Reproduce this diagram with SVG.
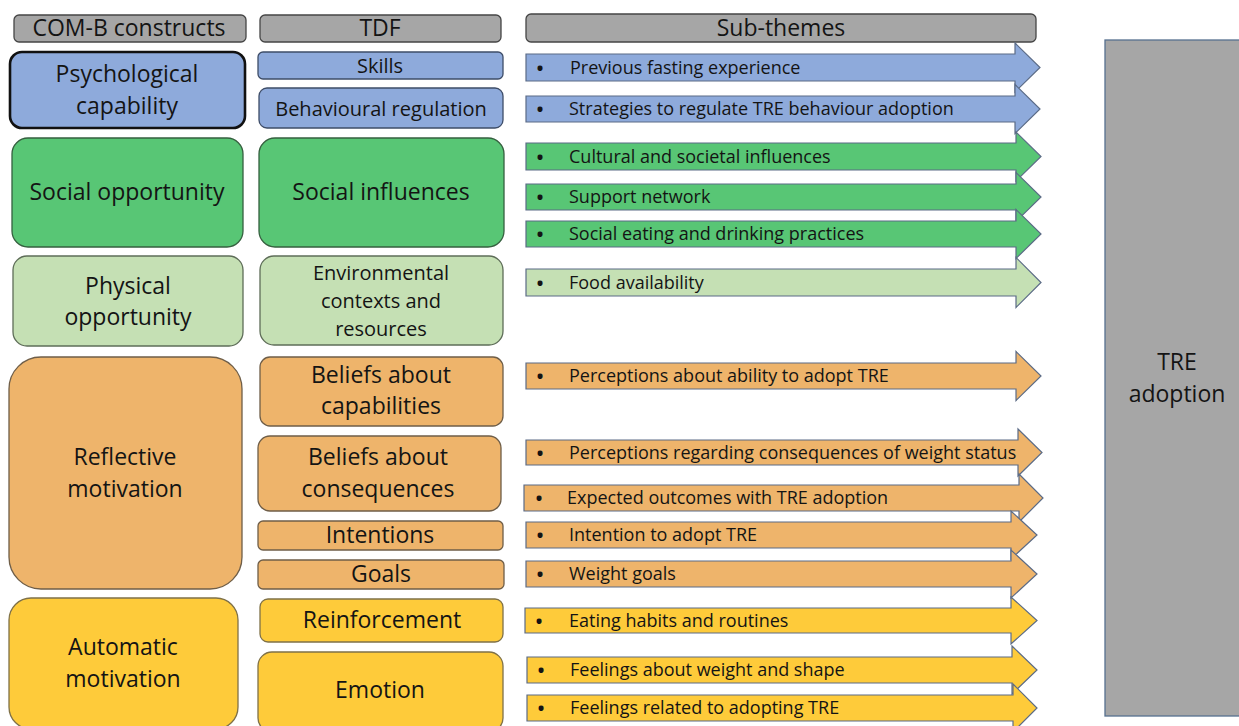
<svg xmlns="http://www.w3.org/2000/svg" width="1239" height="726" viewBox="0 0 1239 726">
  <style>
    text { font-family: "Open Sans", "Noto Sans", "Liberation Sans", sans-serif; fill: #141414; }
    .lbl { font-size: 23px; text-anchor: middle; }
    .lbs { font-size: 20px; text-anchor: middle; }
    .sub { font-size: 18px; }
    .dot { font-size: 24px; text-anchor: middle; }
    .hdr { fill: #a6a6a6; stroke: #454545; stroke-width: 1.3; }
    .blue { fill: #8eaadb; stroke: #3e4d68; stroke-width: 1.3; }
    .green { fill: #58c675; stroke: #35603f; stroke-width: 1.3; }
    .lgreen { fill: #c5e0b4; stroke: #5e6d58; stroke-width: 1.3; }
    .orange { fill: #eeb46b; stroke: #6f5e48; stroke-width: 1.3; }
    .yellow { fill: #fecb3a; stroke: #7f7148; stroke-width: 1.3; }
    .arw { stroke: #5b6b86; stroke-width: 1.2; stroke-linejoin: miter; }
    .arw.green, .arw.lgreen, .arw.orange, .arw.yellow { stroke: #5b6b86; }
  </style>

  <rect width="1239" height="726" fill="#ffffff"/>

  <!-- column headers -->
  <g id="hdr-comb">
    <rect class="hdr" x="14" y="15" width="232" height="27" rx="5"/>
    <text class="lbl" x="129" y="36">COM-B constructs</text>
  </g>
  <g id="hdr-tdf">
    <rect class="hdr" x="260" y="15" width="241" height="27" rx="5"/>
    <text class="lbl" x="380" y="36">TDF</text>
  </g>
  <g id="hdr-subthemes">
    <rect class="hdr" x="526" y="14" width="510" height="28" rx="5"/>
    <text class="lbl" x="781" y="36">Sub-themes</text>
  </g>

  <!-- COM-B constructs -->
  <g id="psychological-capability">
    <rect class="blue" x="10" y="52" width="235" height="76" rx="12" style="stroke:#111;stroke-width:2.6"/>
    <text class="lbl" x="127" y="82">Psychological</text>
    <text class="lbl" x="127" y="114">capability</text>
  </g>
  <g id="social-opportunity">
    <rect class="green" x="12" y="138" width="231" height="109" rx="16"/>
    <text class="lbl" x="127" y="200">Social opportunity</text>
  </g>
  <g id="physical-opportunity">
    <rect class="lgreen" x="13" y="256" width="230" height="90" rx="14"/>
    <text class="lbl" x="128" y="293.5">Physical</text>
    <text class="lbl" x="128" y="325">opportunity</text>
  </g>
  <g id="reflective-motivation">
    <rect class="orange" x="9" y="357" width="233" height="232" rx="32"/>
    <text class="lbl" x="125" y="465">Reflective</text>
    <text class="lbl" x="125" y="497">motivation</text>
  </g>
  <g id="automatic-motivation">
    <rect class="yellow" x="9" y="598" width="229" height="131" rx="22"/>
    <text class="lbl" x="123" y="655">Automatic</text>
    <text class="lbl" x="123" y="687">motivation</text>
  </g>

  <!-- TDF domains -->
  <g id="tdf-skills">
    <rect class="blue" x="258" y="52" width="245" height="27" rx="5"/>
    <text class="lbs" x="380" y="73">Skills</text>
  </g>
  <g id="tdf-behavioural-regulation">
    <rect class="blue" x="259" y="88" width="244" height="40" rx="8"/>
    <text class="lbs" x="381" y="116">Behavioural regulation</text>
  </g>
  <g id="tdf-social-influences">
    <rect class="green" x="259" y="138" width="245" height="109" rx="16"/>
    <text class="lbl" x="381" y="200">Social influences</text>
  </g>
  <g id="tdf-environmental">
    <rect class="lgreen" x="260" y="256" width="243" height="89" rx="14"/>
    <text class="lbs" x="381" y="280">Environmental</text>
    <text class="lbs" x="381" y="308">contexts and</text>
    <text class="lbs" x="381" y="336">resources</text>
  </g>
  <g id="tdf-beliefs-capabilities">
    <rect class="orange" x="260" y="357" width="243" height="69" rx="10"/>
    <text class="lbl" x="381" y="383">Beliefs about</text>
    <text class="lbl" x="381" y="414">capabilities</text>
  </g>
  <g id="tdf-beliefs-consequences">
    <rect class="orange" x="258" y="436" width="243" height="75" rx="12"/>
    <text class="lbl" x="378" y="465">Beliefs about</text>
    <text class="lbl" x="378" y="497">consequences</text>
  </g>
  <g id="tdf-intentions">
    <rect class="orange" x="258" y="521" width="245" height="29" rx="5"/>
    <text class="lbl" x="380" y="543">Intentions</text>
  </g>
  <g id="tdf-goals">
    <rect class="orange" x="258" y="560" width="246" height="29" rx="5"/>
    <text class="lbl" x="381" y="582">Goals</text>
  </g>
  <g id="tdf-reinforcement">
    <rect class="yellow" x="260" y="599" width="243" height="43" rx="8"/>
    <text class="lbl" x="382" y="628">Reinforcement</text>
  </g>
  <g id="tdf-emotion">
    <rect class="yellow" x="258" y="652" width="245" height="80" rx="14"/>
    <text class="lbl" x="380" y="698">Emotion</text>
  </g>

  <!-- outcome -->
  <g id="tre-adoption">
    <rect x="1105" y="40" width="140" height="676" fill="#a6a6a6" stroke="#56708f" stroke-width="1.3"/>
    <text class="lbl" x="1177" y="370">TRE</text>
    <text class="lbl" x="1177" y="402">adoption</text>
  </g>

  <!-- sub-theme block arrows pointing to the outcome -->
  <g id="connectors">
    <g id="st-previous-fasting">
      <polygon class="arw blue" points="526,54 1015,54 1015,43 1040,67.5 1015,92 1015,81 526,81"/>
      <text class="dot" x="540" y="76.5">•</text>
      <text class="sub" x="570" y="73.5">Previous fasting experience</text>
    </g>
    <g id="st-strategies">
      <polygon class="arw blue" points="526,96 1015,96 1015,84.5 1040,109 1015,133.5 1015,122 526,122"/>
      <text class="dot" x="540" y="118">•</text>
      <text class="sub" x="569" y="115">Strategies to regulate TRE behaviour adoption</text>
    </g>
    <g id="st-cultural">
      <polygon class="arw green" points="526,143 1016,143 1016,132 1041,156.5 1016,181 1016,170 526,170"/>
      <text class="dot" x="540" y="165.5">•</text>
      <text class="sub" x="569" y="162.5">Cultural and societal influences</text>
    </g>
    <g id="st-support">
      <polygon class="arw green" points="526,184 1016,184 1016,172.5 1041,197 1016,221.5 1016,210 526,210"/>
      <text class="dot" x="540" y="206">•</text>
      <text class="sub" x="569" y="203">Support network</text>
    </g>
    <g id="st-social-eating">
      <polygon class="arw green" points="526,221 1016,221 1016,209.5 1041,234 1016,258.5 1016,247 526,247"/>
      <text class="dot" x="540" y="243">•</text>
      <text class="sub" x="569" y="240">Social eating and drinking practices</text>
    </g>
    <g id="st-food">
      <polygon class="arw lgreen" points="526,269 1016,269 1016,257.5 1041,282.5 1016,307.5 1016,296 526,296"/>
      <text class="dot" x="540" y="291.5">•</text>
      <text class="sub" x="569" y="288.5">Food availability</text>
    </g>
    <g id="st-ability">
      <polygon class="arw orange" points="526,363 1016,363 1016,351.5 1041,376 1016,400.5 1016,389 526,389"/>
      <text class="dot" x="540" y="385">•</text>
      <text class="sub" x="569" y="382">Perceptions about ability to adopt TRE</text>
    </g>
    <g id="st-weight-status">
      <polygon class="arw orange" points="526,440 1018,440 1018,429 1042,452.5 1018,476 1018,465 526,465"/>
      <text class="dot" x="540" y="461.5">•</text>
      <text class="sub" x="569" y="458.5">Perceptions regarding consequences of weight status</text>
    </g>
    <g id="st-expected-outcomes">
      <polygon class="arw orange" points="524,485 1019,485 1019,474 1043,498 1019,522 1019,511 524,511"/>
      <text class="dot" x="539" y="507">•</text>
      <text class="sub" x="567" y="504">Expected outcomes with TRE adoption</text>
    </g>
    <g id="st-intention">
      <polygon class="arw orange" points="526,522 1011,522 1011,511 1037,535 1011,559 1011,548 526,548"/>
      <text class="dot" x="540" y="544">•</text>
      <text class="sub" x="569" y="541">Intention to adopt TRE</text>
    </g>
    <g id="st-weight-goals">
      <polygon class="arw orange" points="526,561 1011,561 1011,550 1037,574 1011,598 1011,587 526,587"/>
      <text class="dot" x="540" y="583">•</text>
      <text class="sub" x="569" y="580">Weight goals</text>
    </g>
    <g id="st-eating-habits">
      <polygon class="arw yellow" points="525,608 1011,608 1011,597 1037,620.5 1011,644 1011,633 525,633"/>
      <text class="dot" x="539" y="629.5">•</text>
      <text class="sub" x="569" y="626.5">Eating habits and routines</text>
    </g>
    <g id="st-feelings-weight">
      <polygon class="arw yellow" points="527,657 1012,657 1012,646 1037,670 1012,694 1012,683 527,683"/>
      <text class="dot" x="541" y="679">•</text>
      <text class="sub" x="570" y="676">Feelings about weight and shape</text>
    </g>
    <g id="st-feelings-tre">
      <polygon class="arw yellow" points="527,695 1013,695 1013,684 1037,708 1013,732 1013,721 527,721"/>
      <text class="dot" x="541" y="717">•</text>
      <text class="sub" x="570" y="714">Feelings related to adopting TRE</text>
    </g>
  </g>
</svg>
